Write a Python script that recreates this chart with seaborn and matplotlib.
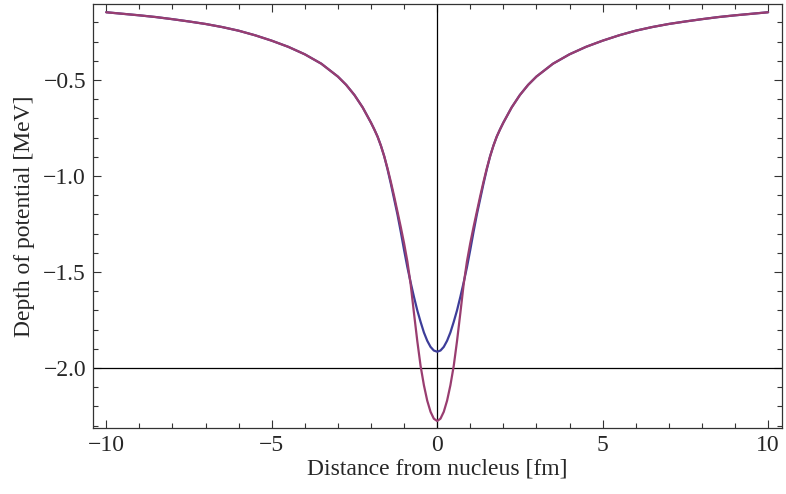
import matplotlib
matplotlib.use("Agg")
from matplotlib import pyplot as plt
from matplotlib.ticker import MultipleLocator
import seaborn as sns
import numpy as np

# distance from nucleus [fm]
x_vals = [-10, -9.5, -9, -8.5, -8, -7.5, -7, -6.5, -6, -5.5, -5, -4.5, -4,
          -3.5, -3, -2.75, -2.5, -2.25, -2, -1.9, -1.8, -1.7, -1.6, -1.5,
          -1.4, -1.3, -1.2, -1.1, -1.0, -0.9, -0.8, -0.7, -0.6, -0.5, -0.4,
          -0.3, -0.2, -0.1, 0,
          0.1, 0.2, 0.3, 0.4, 0.5, 0.6, 0.7, 0.8, 0.9, 1.0, 1.1, 1.2, 1.3,
          1.4, 1.5, 1.6, 1.7, 1.8, 1.9, 2, 2.25, 2.5, 2.75, 3, 3.5, 4, 4.5,
          5, 5.5, 6, 6.5, 7, 7.5, 8, 8.5, 9, 9.5, 10]

# blue curve (flattened core)
depth_blue = [-0.147, -0.155, -0.163, -0.172, -0.183, -0.195, -0.208, -0.224,
              -0.243, -0.267, -0.295, -0.327, -0.366, -0.415, -0.482, -0.525,
              -0.578, -0.643, -0.722, -0.757, -0.795, -0.842, -0.897, -0.965,
              -1.040, -1.120, -1.200, -1.290, -1.385, -1.475, -1.555, -1.630,
              -1.700, -1.760, -1.815, -1.858, -1.890, -1.909, -1.915,
              -1.909, -1.890, -1.858, -1.815, -1.760, -1.700, -1.630, -1.555,
              -1.475, -1.385, -1.290, -1.200, -1.120, -1.040, -0.965, -0.897,
              -0.842, -0.795, -0.757, -0.722, -0.643, -0.578, -0.525, -0.482,
              -0.415, -0.366, -0.327, -0.295, -0.267, -0.243, -0.224, -0.208,
              -0.195, -0.183, -0.172, -0.163, -0.155, -0.147]

# purple curve (deeper core)
depth_purple = [-0.147, -0.155, -0.163, -0.172, -0.183, -0.195, -0.208, -0.224,
                -0.243, -0.267, -0.295, -0.327, -0.366, -0.415, -0.482, -0.525,
                -0.578, -0.643, -0.722, -0.757, -0.795, -0.842, -0.897, -0.960,
                -1.030, -1.105, -1.185, -1.265, -1.350, -1.445, -1.565, -1.715,
                -1.860, -1.990, -2.090, -2.170, -2.228, -2.264, -2.276,
                -2.264, -2.228, -2.170, -2.090, -1.990, -1.860, -1.715, -1.565,
                -1.445, -1.350, -1.265, -1.185, -1.105, -1.030, -0.960, -0.897,
                -0.842, -0.795, -0.757, -0.722, -0.643, -0.578, -0.525, -0.482,
                -0.415, -0.366, -0.327, -0.295, -0.267, -0.243, -0.224, -0.208,
                -0.195, -0.183, -0.172, -0.163, -0.155, -0.147]

sns.set_style("ticks")
plt.rcParams["font.family"] = ["Liberation Serif", "DejaVu Serif"]

fig = plt.figure(figsize=(7.86, 4.94), dpi=100)
ax = fig.add_axes([0.1183, 0.1336, 0.8766, 0.8583])

# axes lines through the origin (0, -2)
ax.axhline(-2.0, color="black", lw=0.9, zorder=1)
ax.axvline(0.0, color="black", lw=0.9, zorder=1)

sns.lineplot(x=x_vals, y=depth_blue, color="#3d3d99", lw=1.6, ax=ax, zorder=2)
sns.lineplot(x=x_vals, y=depth_purple, color="#993d70", lw=1.6, ax=ax, zorder=3)

ax.set_xlim(-10.4, 10.42)
ax.set_ylim(-2.3125, -0.104)

ax.xaxis.set_major_locator(MultipleLocator(5))
ax.xaxis.set_minor_locator(MultipleLocator(1))
ax.yaxis.set_major_locator(MultipleLocator(0.5))
ax.yaxis.set_minor_locator(MultipleLocator(0.1))

ax.tick_params(which="both", direction="in", top=True, right=True,
               color="#333333", width=0.8)
ax.tick_params(which="major", length=6, labelsize=17, pad=5)
ax.tick_params(which="minor", length=3.5)

for s in ax.spines.values():
    s.set_color("#333333")
    s.set_linewidth(0.9)

ax.set_xlabel("Distance from nucleus [fm]", fontsize=17, labelpad=2)
ax.set_ylabel("Depth of potential [MeV]", fontsize=17, labelpad=6)

fig.savefig("out.png", dpi=100)
